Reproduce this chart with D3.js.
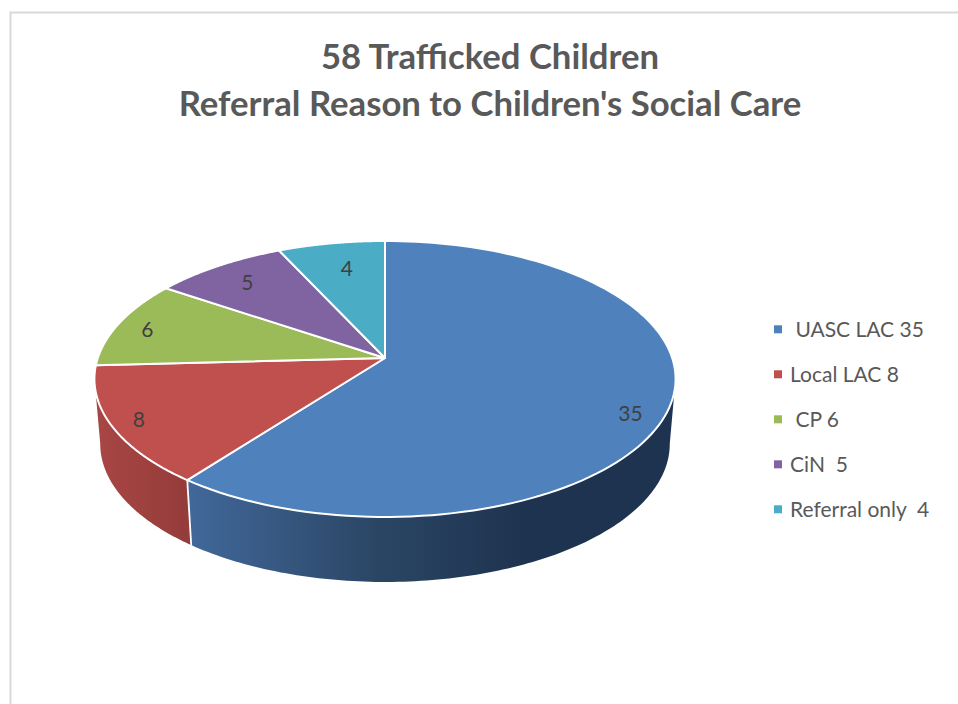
<!DOCTYPE html>
<html><head><meta charset="utf-8">
<script src="https://cdnjs.cloudflare.com/ajax/libs/d3/7.8.5/d3.min.js"></script>
<style>html,body{margin:0;padding:0;background:#fff}svg{display:block}text{font-family:Lato,"Open Sans",sans-serif;white-space:pre}</style>
</head><body><svg id="c" width="958" height="704"></svg>
<script>
const titleLines = ["58 Trafficked Children", "Referral Reason to Children's Social Care"];
const categories = [" UASC LAC 35", "Local LAC 8", " CP 6", "CiN  5", "Referral only  4"];
const values = [35, 8, 6, 5, 4];
const colors = ["#4f81bd", "#c0504d", "#9bbb59", "#8064a2", "#4bacc6"];

// layout
const apex = {x: 385, y: 358}, A = 287.2, B = 134.8, k = -0.152, depth = 65, baseScale = 0.98;
const labelRadius = [0.89, 0.905, 0.885, 0.81, 0.76];
const labelNudge = [6.5, 0.4, -0.8, 0, 1.2].map(d => d * Math.PI / 180);
const silhouette = 98.7 * Math.PI / 180;

const svg = d3.select("#c");
const project = (a, r = 1) => {
  const u = r * Math.sin(a), v = -r * Math.cos(a), w = 1 + k * v;
  return [apex.x + A * u / w, apex.y + B * v / w];
};
const projectBase = a => {
  const [x, y] = project(a);
  return [apex.x + (x - apex.x) * baseScale, y + depth];
};
const arcPts = (a0, a1, f) => d3.range(0, 121).map(i => f(a0 + (a1 - a0) * i / 120));
const line = d3.line();

const arcs = d3.pie().sort(null).startAngle(0).endAngle(2 * Math.PI)(values);

// frame
svg.append("path").attr("d", "M10.5,704V12.5H958").attr("fill", "none").attr("stroke", "#d9d9d9").attr("stroke-width", 2);

// gradients
const defs = svg.append("defs");
const grad = (id, x1, x2, stops) => {
  const g = defs.append("linearGradient").attr("id", id).attr("gradientUnits", "userSpaceOnUse")
    .attr("x1", x1).attr("x2", x2).attr("y1", 0).attr("y2", 0);
  stops.forEach(([o, c]) => g.append("stop").attr("offset", o).attr("stop-color", c));
};
grad("sideBlue", 190, 525, [[0, "#41689a"], [0.55, "#2b4665"], [1, "#1e3350"]]);
grad("sideRed", 96, 190, [[0, "#a84644"], [1, "#943c3a"]]);

// side walls
const walls = [
  {a0: silhouette, a1: arcs[0].endAngle, fill: "url(#sideBlue)"},
  {a0: arcs[1].startAngle, a1: 2 * Math.PI - silhouette, fill: "url(#sideRed)"}
];
svg.append("g").selectAll("path").data(walls).join("path")
  .attr("d", d => line(arcPts(d.a0, d.a1, project).concat(arcPts(d.a1, d.a0, projectBase))) + "Z")
  .attr("fill", d => d.fill);
// seam between the two walls
const seam = arcs[0].endAngle;
svg.append("path").attr("d", line([project(seam), projectBase(seam)]))
  .attr("stroke", "#fff").attr("stroke-width", 1.8).attr("fill", "none");

// top surface
svg.append("g").selectAll("path").data(arcs).join("path")
  .attr("d", d => line([[apex.x, apex.y]].concat(arcPts(d.startAngle, d.endAngle, project))) + "Z")
  .attr("fill", (d, i) => colors[i])
  .attr("stroke", "#fff").attr("stroke-width", 2).attr("stroke-linejoin", "round");

// data labels
svg.append("g").selectAll("text").data(arcs).join("text")
  .each(function (d, i) {
    const [x, y] = project((d.startAngle + d.endAngle) / 2 + labelNudge[i], labelRadius[i]);
    d3.select(this).attr("x", x).attr("y", y);
  })
  .attr("text-anchor", "middle").attr("dominant-baseline", "central")
  .attr("font-size", 21).attr("fill", "#404040")
  .text(d => d.value);

// title
svg.append("g").selectAll("text").data(titleLines).join("text")
  .attr("x", 490).attr("y", (d, i) => 69 + i * 47)
  .attr("text-anchor", "middle").attr("font-size", 34.7).attr("font-weight", 700).attr("fill", "#595959")
  .text(d => d);

// legend
const legendY = d3.scalePoint().domain(categories).range([329.3, 509.3]);
const legend = svg.append("g").selectAll("g").data(categories).join("g")
  .attr("transform", d => `translate(0,${legendY(d)})`);
legend.append("rect").attr("x", 774).attr("y", -4).attr("width", 8).attr("height", 8)
  .attr("fill", (d, i) => colors[i]);
legend.append("text").attr("x", 790).attr("y", -1).attr("dominant-baseline", "central")
  .attr("font-size", 21).attr("fill", "#595959").text(d => d);
</script></body></html>
